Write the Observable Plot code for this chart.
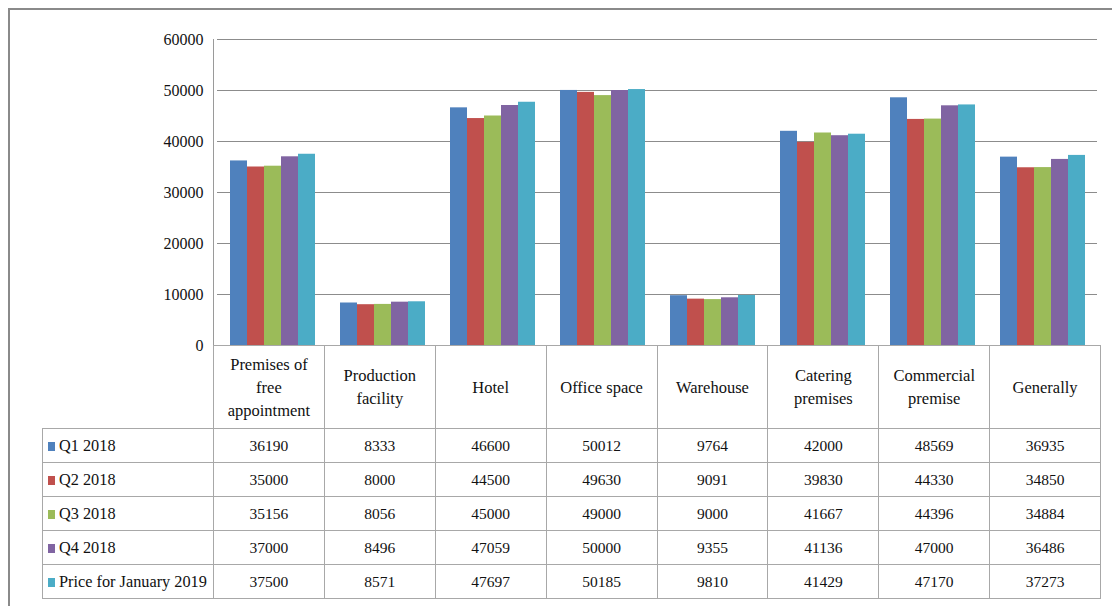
<!DOCTYPE html>
<html>
<head>
<meta charset="utf-8">
<script src="https://cdn.jsdelivr.net/npm/d3@7"></script>
<script src="https://cdn.jsdelivr.net/npm/@observablehq/plot@0.6"></script>
<style>
  html, body { margin: 0; padding: 0; background: #fff; }
  #wrap { position: relative; width: 1112px; height: 606px; overflow: hidden; font-family: "Liberation Serif", "DejaVu Serif", serif; color: #111; }
  #frame { position: absolute; left: 8px; top: 8px; width: 1112px; height: 606px; border-left: 2px solid #8a8a8a; border-top: 2px solid #8a8a8a; box-sizing: border-box; }
  #chart { position: absolute; left: 0; top: 0; }
  #yaxisline { position: absolute; left: 213px; top: 39px; width: 1px; height: 307px; background: #9a9a9a; }
  table { position: absolute; left: 42px; top: 345px; border-collapse: collapse; table-layout: fixed; font-size: 15.5px; font-family: "Liberation Serif", "DejaVu Serif", serif; color: #111; }
  td { border: 1px solid #a8a8a8; padding: 0; text-align: center; height: 33px; white-space: nowrap; }
  tr.head td { height: 82px; white-space: pre-line; line-height: 23px; font-size: 16.5px; }
  tr.head td.blank { border-top: none; border-left: none; border-bottom: 1px solid #a8a8a8; }
  td.leg { text-align: left; padding-left: 5px; font-size: 16.3px; }
  .sw { display: inline-block; width: 7px; height: 9px; margin-right: 4px; vertical-align: 0px; }
</style>
</head>
<body>
<div id="wrap">
  <div id="frame"></div>
  <div id="chart"></div>
  <div id="yaxisline"></div>
  <table id="tbl"></table>
</div>
<script>
// ---- data ----
const categories = [
  "Premises of\nfree\nappointment",
  "Production\nfacility",
  "Hotel",
  "Office space",
  "Warehouse",
  "Catering\npremises",
  "Commercial\npremise",
  "Generally"
];
const seriesNames = ["Q1 2018", "Q2 2018", "Q3 2018", "Q4 2018", "Price for January 2019"];
const seriesColors = ["#4F81BD", "#C0504D", "#9BBB59", "#8064A2", "#4BACC6"];
const q1_2018  = [36190, 8333, 46600, 50012, 9764, 42000, 48569, 36935];
const q2_2018  = [35000, 8000, 44500, 49630, 9091, 39830, 44330, 34850];
const q3_2018  = [35156, 8056, 45000, 49000, 9000, 41667, 44396, 34884];
const q4_2018  = [37000, 8496, 47059, 50000, 9355, 41136, 47000, 36486];
const jan_2019 = [37500, 8571, 47697, 50185, 9810, 41429, 47170, 37273];
const yTicks = [0, 10000, 20000, 30000, 40000, 50000, 60000];

const seriesValues = [q1_2018, q2_2018, q3_2018, q4_2018, jan_2019];
const rows = [];
seriesNames.forEach((s, si) => {
  categories.forEach((c, ci) => rows.push({category: c, series: s, value: seriesValues[si][ci]}));
});

const W = 1112;
const chart = Plot.plot({
  width: W,
  height: 362,
  marginLeft: 213,
  marginRight: 12,
  marginTop: 39,
  marginBottom: 17,
  style: {fontFamily: "'Liberation Serif', 'DejaVu Serif', serif", fontSize: "16px", color: "#111", background: "transparent"},
  fx: {domain: categories, padding: 0, axis: null},
  x: {domain: seriesNames, paddingInner: 0, paddingOuter: 0.72, axis: null},
  y: {domain: [0, 60000], axis: null},
  color: {domain: seriesNames, range: seriesColors},
  marks: [
    Plot.gridY(yTicks, {stroke: "#8c8c8c", strokeOpacity: 1, strokeWidth: 1}),
    Plot.barY(rows, {fx: "category", x: "series", y: "value", fill: "series"}),
    Plot.axisY(yTicks, {tickSize: 0, tickPadding: 14, tickFormat: d => String(d), fontSize: 16, label: null})
  ]
});
document.getElementById("chart").appendChild(chart);

// ---- data table ----
const tbl = document.getElementById("tbl");
const colW = (W - 12 - 213) / categories.length;
const cg = document.createElement("colgroup");
const c0 = document.createElement("col"); c0.style.width = (213 - 42) + "px"; cg.appendChild(c0);
categories.forEach(() => { const c = document.createElement("col"); c.style.width = colW + "px"; cg.appendChild(c); });
tbl.appendChild(cg);
tbl.style.width = (W - 12 - 42) + "px";
const head = document.createElement("tr"); head.className = "head";
const blank = document.createElement("td"); blank.className = "blank"; head.appendChild(blank);
categories.forEach(c => { const td = document.createElement("td"); td.textContent = c; head.appendChild(td); });
tbl.appendChild(head);
seriesNames.forEach((s, si) => {
  const tr = document.createElement("tr");
  const td0 = document.createElement("td"); td0.className = "leg";
  const sw = document.createElement("span"); sw.className = "sw"; sw.style.background = seriesColors[si];
  td0.appendChild(sw); td0.appendChild(document.createTextNode(s));
  tr.appendChild(td0);
  seriesValues[si].forEach(v => { const td = document.createElement("td"); td.textContent = String(v); tr.appendChild(td); });
  tbl.appendChild(tr);
});
</script>
</body>
</html>
